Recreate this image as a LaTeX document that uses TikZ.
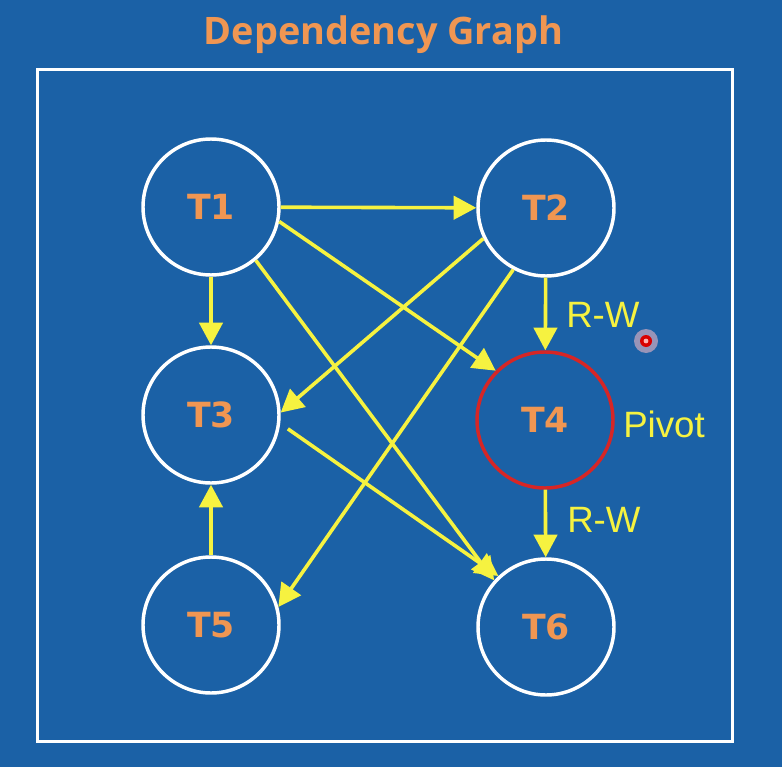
\documentclass[tikz,border=0pt]{standalone}
\usepackage{fontspec}
\usepackage{tikz}
\usetikzlibrary{arrows.meta}

\newfontfamily\titlefont{Open Sans}
\newfontfamily\txfont{DejaVu Sans}
\newfontfamily\rwfont{Liberation Sans}

\definecolor{bgblue}{RGB}{27,97,166}
\definecolor{labelorange}{RGB}{240,150,82}
\definecolor{depyellow}{RGB}{246,242,64}
\definecolor{pivotred}{RGB}{214,38,38}
\definecolor{glowpink}{RGB}{255,190,200}

\tikzset{
  txnode/.style={circle, draw=white, line width=2.6pt, minimum size=102pt, inner sep=0pt,
    text=labelorange, font=\txfont\bfseries\fontsize{26}{26}\selectfont},
  pivotnode/.style={txnode, draw=pivotred},
  dep/.style={draw=depyellow, line width=2.7pt, -{Triangle[length=17pt,width=17.5pt]}},
  rwlabel/.style={text=depyellow, inner sep=0pt, font=\rwfont\fontsize{27.5}{27.5}\selectfont},
}

\begin{document}
\begin{tikzpicture}[x=0.75pt,y=0.75pt,yscale=-1,xscale=1]
        \fill[bgblue] (0,0) rectangle (782,767);
        \useasboundingbox (0,0) rectangle (782,767);
        \draw[white, line width=2.25pt] (37,70) rectangle (732,741);

        \node (title) at (383.5,45) [anchor=base, inner sep=0pt, text=labelorange,
          font=\titlefont\bfseries\fontsize{28.4}{28.4}\selectfont] {Dependency Graph};

        % transactions
        \node (T1) at (211,207) [txnode] {T1};
        \node (T2) at (546,208) [txnode] {T2};
        \node (T3) at (211,415) [txnode] {T3};
        \node (T4) at (545,420) [pivotnode] {T4};
        \node (T5) at (211,625) [txnode] {T5};
        \node (T6) at (546,627) [txnode] {T6};

        % dependencies
        \draw[dep] (T1) -- (T2);
        \draw[dep] (T1) -- (T3);
        \draw[dep] (T1.-12) -- (T4.135);
        \draw[dep] (T1.-50) -- (T6.138);
        \draw[dep] (T2.206) -- (T3.2);
        \draw[dep] (T2.242) -- (T5.15);
        \draw[dep] (T2) -- (T4);
        \draw[dep, shorten <=7pt] (T3.-7) -- (T6.133);
        \draw[dep] (T4) -- (T6);
        \draw[dep] (T5) -- (T3);

        \node (rwtop) at (566,327) [rwlabel, anchor=base west] {R-W};
        \node (pivot) at (623,437) [rwlabel, anchor=base west] {Pivot};
        \node (rwbottom) at (567,532) [rwlabel, anchor=base west] {R-W};

        % pointer
        \fill[glowpink, opacity=0.55] (646,341) circle (9pt);
        \fill[red!85!black] (646,341) circle (4.5pt);
        \fill[red!30] (646,341) circle (1.8pt);
\end{tikzpicture}
\end{document}
